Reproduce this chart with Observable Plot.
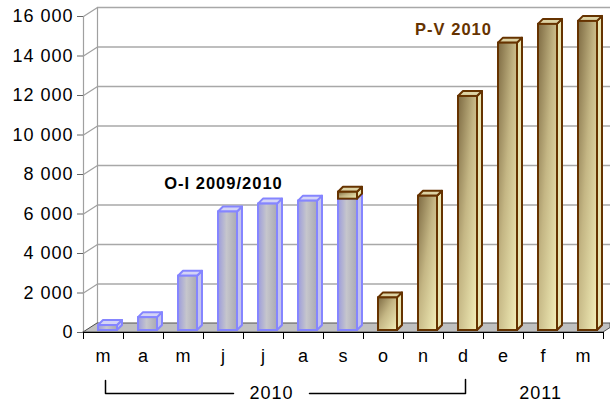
<!DOCTYPE html>
<html>
<head>
<meta charset="utf-8">
<script src="https://cdn.jsdelivr.net/npm/d3@7"></script>
<script src="https://cdn.jsdelivr.net/npm/@observablehq/plot@0.6"></script>
<style>
  html, body { margin: 0; padding: 0; background: #fff; }
  #chart { width: 610px; height: 404px; overflow: hidden; }
</style>
</head>
<body>
<div id="chart"></div>
<script>
// ---- data ----
const months = ["m", "a", "m", "j", "j", "a", "s", "o", "n", "d", "e", "f", "m"];
const seriesOI = [250, 650, 2750, 6000, 6400, 6550, 6650, 0, 0, 0, 0, 0, 0];      // O-I 2009/2010
const seriesPV = [0, 0, 0, 0, 0, 0, 350, 1650, 6800, 11850, 14550, 15500, 15650]; // P-V 2010
const yTicks = [0, 2000, 4000, 6000, 8000, 10000, 12000, 14000, 16000];
const seriesNames = ["O-I 2009/2010", "P-V 2010"];
const yearLabels = ["2010", "2011"];

// ---- pseudo-3D geometry (pixel sizes converted to data units) ----
const W = 610, H = 404, mL = 83, mR = 7, mT = 16, mB = 72;
const KX = (W - mL - mR) / 13;          // px per category
const KY = (H - mT - mB) / 16000;       // px per value unit
const ux = p => p / KX, uy = p => p / KY;
const wallDX = ux(14), wallDY = uy(9);  // depth of floor / side wall
const barL = ux(-5), barR = ux(14);     // front face of bar relative to category centre
const barDX = ux(5), barDY = uy(5);     // bar depth
const lift = uy(2);                     // bars stand slightly behind the front edge
const xMax = (W - mL) / KX - 0.5;       // right edge of the svg in x units

// stacked segments
function segments(values, bases, name) {
  return values.map((v, i) => ({i, name, b: bases[i], t: bases[i] + v, v}))
    .filter(d => d.v > 0);
}
const segOI = segments(seriesOI, seriesOI.map(() => 0), seriesNames[0]);
const segPV = segments(seriesPV, seriesOI, seriesNames[1]);

const frontRect = s => s.map(d => ({x1: d.i + barL, x2: d.i + barR, y1: d.b + lift, y2: d.t + lift}));
const topFace = s => s.flatMap((d, k) => {
  const T = d.t + lift;
  return [
    {id: k, x: d.i + barL, y1: T, y2: T},
    {id: k, x: d.i + barL + barDX, y1: T, y2: T + barDY},
    {id: k, x: d.i + barR, y1: T, y2: T + barDY},
    {id: k, x: d.i + barR + barDX, y1: T + barDY, y2: T + barDY}
  ];
});
const sideFace = s => s.flatMap((d, k) => [
  {id: k, x: d.i + barR, y1: d.b + lift, y2: d.t + lift},
  {id: k, x: d.i + barR + barDX, y1: d.b + lift + barDY, y2: d.t + lift + barDY}
]);

const floor = [
  {x: -0.5, y1: 0, y2: 0},
  {x: -0.5 + wallDX, y1: 0, y2: wallDY},
  {x: 12.5, y1: 0, y2: wallDY},
  {x: xMax, y1: wallDY * (xMax - 12.5) / wallDX, y2: wallDY}
];

const fmt = d => d3.format(",")(d).replace(/,/g, "\u00a0");
const boundaries = d3.range(-0.5, 13, 1);
const font = "'Liberation Sans', Arial, sans-serif";

const blueStroke = "#8585ff", brownStroke = "#663300";

const chart = Plot.plot({
  width: W, height: H,
  marginLeft: mL, marginRight: mR, marginTop: mT, marginBottom: mB,
  x: {type: "linear", domain: [-0.5, 12.5], axis: null},
  y: {type: "linear", domain: [0, 16000], axis: null},
  style: {fontFamily: font, fontSize: "18px", letterSpacing: "1px", background: "white", color: "black"},
  marks: [
    // side wall diagonals and back-wall gridlines
    Plot.link(yTicks, {x1: -0.5, y1: d => d, x2: -0.5 + wallDX, y2: d => d + wallDY, stroke: "#a0a0a0", strokeWidth: 1.2}),
    Plot.ruleY(yTicks.slice(1), {y: d => d + wallDY, x1: -0.5 + wallDX, x2: xMax, stroke: "#a8a8a8", strokeWidth: 1.5}),
    Plot.ruleX([-0.5 + wallDX], {y1: wallDY, y2: 16000 + wallDY, stroke: "#a0a0a0", strokeWidth: 1.2}),
    Plot.ruleX([-0.5], {y1: 0, y2: 16000, stroke: "#a0a0a0", strokeWidth: 1.2}),
    // floor
    Plot.area(floor, {x1: "x", y1: "y1", y2: "y2", fill: "#c0c0c0", stroke: "#505050", strokeWidth: 1}),
    Plot.ruleY([0], {x1: -0.5, x2: 12.5, stroke: "black", strokeWidth: 1.2}),
    // axes
    Plot.axisY({ticks: yTicks, tickFormat: fmt, tickSize: 6, tickPadding: 4, fontSize: 18, stroke: "#666", label: null}),
    Plot.axisX({ticks: boundaries, tickFormat: () => "", tickSize: 7, stroke: "black", label: null}),
    Plot.text(months, {x: (d, i) => i, y: 0, dy: 24, text: d => d, fontSize: 18, fill: "black"}),
    // O-I bars
    Plot.area(sideFace(segOI), {x1: "x", y1: "y1", y2: "y2", z: "id", fill: "#c4c4ee", stroke: blueStroke, strokeWidth: 2, strokeLinejoin: "round"}),
    Plot.area(topFace(segOI), {x1: "x", y1: "y1", y2: "y2", z: "id", fill: "#d4d4f6", stroke: blueStroke, strokeWidth: 2, strokeLinejoin: "round"}),
    Plot.rect(frontRect(segOI), {x1: "x1", x2: "x2", y1: "y1", y2: "y2", fill: "url(#gradBlue)", stroke: blueStroke, strokeWidth: 2}),
    // P-V bars
    Plot.area(sideFace(segPV), {x1: "x", y1: "y1", y2: "y2", z: "id", fill: "#e9e5b2", stroke: brownStroke, strokeWidth: 2, strokeLinejoin: "round"}),
    Plot.area(topFace(segPV), {x1: "x", y1: "y1", y2: "y2", z: "id", fill: "#ddd3a4", stroke: brownStroke, strokeWidth: 2, strokeLinejoin: "round"}),
    Plot.rect(frontRect(segPV), {x1: "x1", x2: "x2", y1: "y1", y2: "y2", fill: "url(#gradBrown)", stroke: brownStroke, strokeWidth: 2}),
    // series labels
    Plot.text([seriesNames[0]], {x: 3, y: uy(332 - 183), text: d => d, fontSize: 16.5, fontWeight: "bold", fill: "black"}),
    Plot.text([seriesNames[1]], {x: 8.75, y: uy(332 - 29.5), text: d => d, fontSize: 16.5, fontWeight: "bold", fill: brownStroke}),
    // year bracket
    Plot.line([{x: 0.05, y: uy(-48)}, {x: 0.05, y: uy(-61)}, {x: 3.25, y: uy(-61)}], {x: "x", y: "y", stroke: "black", strokeWidth: 1.5}),
    Plot.line([{x: 5.15, y: uy(-61)}, {x: 9.05, y: uy(-61)}, {x: 9.05, y: uy(-47)}], {x: "x", y: "y", stroke: "black", strokeWidth: 1.5}),
    Plot.text(yearLabels, {x: (d, i) => i === 0 ? 4.2 : 10.93, y: 0, dy: 61, text: d => d, fontSize: 18, fill: "black"})
  ]
});

// gradients for the bar fronts
const defs = d3.select(chart).insert("defs", ":first-child");
const gB = defs.append("linearGradient").attr("id", "gradBlue").attr("x1", 0).attr("y1", 0).attr("x2", 1).attr("y2", 0);
[["0%", "#9c9cdc"], ["45%", "#c6c6cc"], ["100%", "#a9a9b4"]].forEach(([o, c]) => gB.append("stop").attr("offset", o).attr("stop-color", c));
const gR = defs.append("linearGradient").attr("id", "gradBrown").attr("x1", 0).attr("y1", 0).attr("x2", 1).attr("y2", 1);
[["0%", "#7d6a42"], ["45%", "#c4b684"], ["100%", "#f4f0ba"]].forEach(([o, c]) => gR.append("stop").attr("offset", o).attr("stop-color", c));

document.getElementById("chart").appendChild(chart);
</script>
</body>
</html>
